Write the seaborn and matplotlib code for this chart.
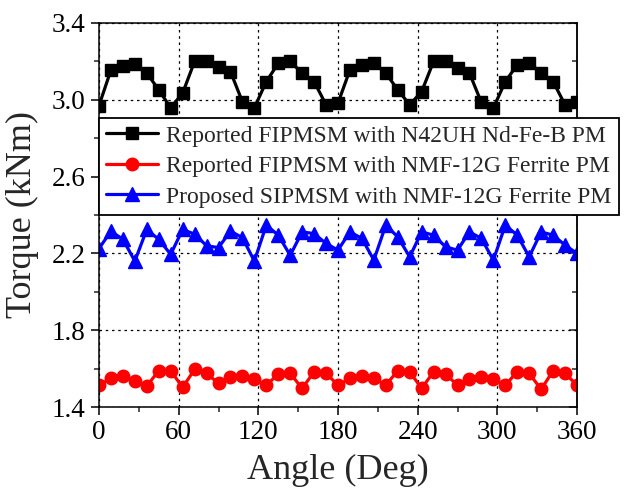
import numpy as np
import pandas as pd
import matplotlib
matplotlib.use("Agg")
import matplotlib.pyplot as plt
from matplotlib.ticker import MultipleLocator, FixedLocator, FormatStrFormatter
import seaborn as sns

# Rotor angle in degrees (9 degree steps over one electrical revolution)
angle = list(range(0, 361, 9))

# Torque (kNm) of each machine
torque_nd = [2.97, 3.155, 3.177, 3.187, 3.139, 3.052, 2.958, 3.035, 3.20, 3.20,
             3.173, 3.147, 2.99, 2.958, 3.095, 3.19, 3.20, 3.139, 3.095, 2.974,
             2.983, 3.156, 3.182, 3.194, 3.139, 3.052, 2.974, 3.043, 3.20, 3.20,
             3.165, 3.139, 2.986, 2.957, 3.095, 3.182, 3.194, 3.139, 3.095, 2.974,
             2.99]
torque_fipm_ferrite = [1.514, 1.549, 1.561, 1.537, 1.509, 1.589, 1.589, 1.502, 1.596, 1.575,
                       1.523, 1.554, 1.561, 1.544, 1.514, 1.571, 1.575, 1.497, 1.583, 1.575,
                       1.514, 1.549, 1.561, 1.549, 1.514, 1.589, 1.583, 1.497, 1.583, 1.571,
                       1.514, 1.544, 1.557, 1.544, 1.514, 1.583, 1.575, 1.492, 1.589, 1.575,
                       1.514]
torque_sipm_ferrite = [2.225, 2.316, 2.273, 2.16, 2.325, 2.273, 2.195, 2.325, 2.30, 2.24,
                       2.23, 2.316, 2.282, 2.16, 2.347, 2.295, 2.19, 2.312, 2.303, 2.252,
                       2.217, 2.312, 2.278, 2.165, 2.347, 2.286, 2.182, 2.312, 2.295, 2.234,
                       2.217, 2.312, 2.278, 2.165, 2.347, 2.295, 2.182, 2.312, 2.295, 2.243,
                       2.20]

labels = ["Reported FIPMSM with N42UH Nd-Fe-B PM",
          "Reported FIPMSM with NMF-12G Ferrite PM",
          "Proposed SIPMSM with NMF-12G Ferrite PM"]
colors = ["#000000", "#ff0000", "#0000ff"]
markers = ["s", "o", "^"]
msizes = [9, 9, 10]

x_ticks = [0, 60, 120, 180, 240, 300, 360]
y_ticks = [1.4, 1.8, 2.2, 2.6, 3.0, 3.4]
y_minor = [1.6, 2.0, 2.4, 2.8, 3.2]

sns.set_style("ticks")
plt.rcParams["font.family"] = ["Liberation Serif", "DejaVu Serif"]

fig = plt.figure(figsize=(6.44, 4.98), dpi=100)
ax = fig.add_axes([99 / 644, 91 / 498, 478 / 644, 384 / 498])

series = [torque_nd, torque_fipm_ferrite, torque_sipm_ferrite]
for vals, lab, col, mk, ms in zip(series, labels, colors, markers, msizes):
    df = pd.DataFrame({"Angle": angle, "Torque": vals})
    sns.lineplot(data=df, x="Angle", y="Torque", ax=ax, color=col, marker=mk,
                 markersize=ms, markeredgecolor=col, markeredgewidth=1,
                 linewidth=2.3, label=lab)

ax.set_xlim(0, 360)
ax.set_ylim(1.4, 3.4)
ax.xaxis.set_major_locator(FixedLocator(x_ticks))
ax.xaxis.set_minor_locator(MultipleLocator(30))
ax.yaxis.set_major_locator(FixedLocator(y_ticks))
ax.yaxis.set_minor_locator(FixedLocator(y_minor))
ax.yaxis.set_major_formatter(FormatStrFormatter("%.1f"))

ax.grid(True, which="major", linestyle=(0, (2, 3)), color="black", linewidth=0.9)
ax.set_axisbelow(True)

for side in ["left", "bottom", "right", "top"]:
    ax.spines[side].set_visible(True)
    ax.spines[side].set_linewidth(1.1)
    ax.spines[side].set_color("black")

ax.tick_params(axis="both", which="major", direction="out", length=6, width=1.1,
               labelsize=19.5, colors="black")
ax.tick_params(axis="both", which="minor", direction="out", length=3.5, width=1.1)

# mirrored inward ticks on the right-hand axis
rax = ax.secondary_yaxis("right")
rax.set_yticks(y_ticks)
rax.yaxis.set_minor_locator(FixedLocator(y_minor))
rax.tick_params(which="both", direction="in", labelright=False, width=1.1)
rax.tick_params(which="major", length=6)
rax.tick_params(which="minor", length=3.5)
rax.spines["right"].set_linewidth(1.1)

ax.set_xlabel("Angle (Deg)", fontsize=26, labelpad=6)
ax.set_ylabel("Torque (kNm)", fontsize=26, labelpad=9)

leg = ax.legend(loc="upper left", bbox_to_anchor=(0, (407 - 118) / 384),
                borderaxespad=0, fontsize=17, frameon=True, fancybox=False,
                framealpha=1, edgecolor="black", handlelength=2.2,
                handletextpad=0.35, labelspacing=0.38, borderpad=0.3,
                numpoints=1)
leg.get_frame().set_linewidth(1.3)
leg.set_zorder(5)

fig.savefig("out.png", dpi=100)
